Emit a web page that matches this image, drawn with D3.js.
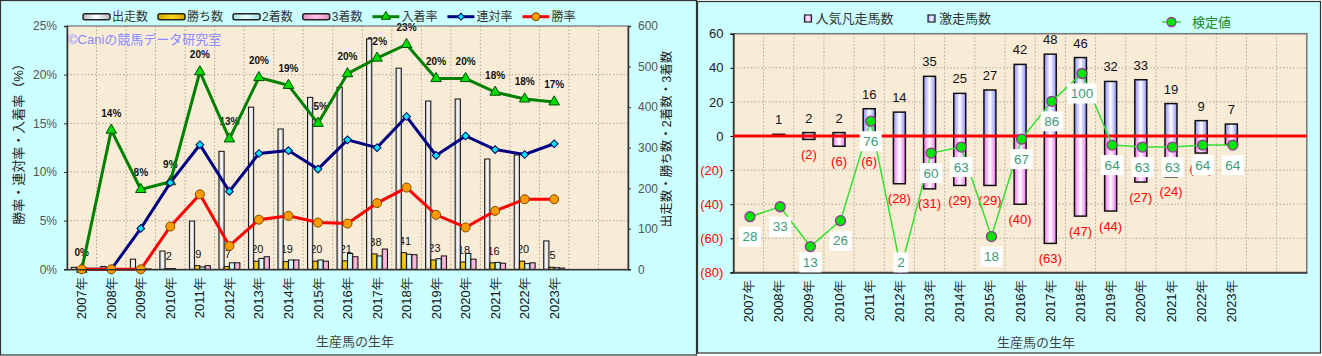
<!DOCTYPE html>
<html><head><meta charset="utf-8">
<script src="https://cdn.jsdelivr.net/npm/d3@7"></script>
<style>
body{margin:0;background:#fff;}
svg{display:block;font-family:"Liberation Sans","Noto Sans CJK JP",sans-serif;}
</style></head><body>
<svg id="c" width="1322" height="356"></svg>
<script>
// ---------- DATA ----------
const categories = ['2007年','2008年','2009年','2010年','2011年','2012年','2013年','2014年','2015年','2016年','2017年','2018年','2019年','2020年','2021年','2022年','2023年'];
// left chart: counts (right axis)
const runners  = [5, 7, 25, 45, 119, 291, 400, 346, 424, 449, 568, 496, 415, 420, 272, 282, 70];
const wins     = [0, 0, 0, 2, 9, 7, 20, 19, 20, 21, 38, 41, 23, 18, 16, 20, 5];
const seconds  = [0, 0, 1, 2, 6, 16, 27, 23, 23, 39, 33, 37, 26, 39, 17, 14, 4];
const thirds   = [0, 1, 1, 0, 9, 16, 31, 23, 20, 31, 50, 36, 33, 25, 15, 16, 3];
// left chart: rates in % (left axis)
const placeRate    = [0, 14.3, 8.2, 9.0, 20.3, 13.4, 19.7, 18.9, 15.0, 20.1, 21.7, 23.1, 19.6, 19.6, 18.2, 17.5, 17.2];
const quinellaRate = [0, 0, 4.2, 8.9, 12.8, 8.0, 11.9, 12.2, 10.3, 13.3, 12.5, 15.7, 11.7, 13.7, 12.3, 11.8, 12.9];
const winRate      = [0, 0, 0, 4.4, 7.7, 2.4, 5.1, 5.5, 4.8, 4.7, 6.8, 8.4, 5.6, 4.3, 6.0, 7.2, 7.2];
const leftTicks  = [0, 5, 10, 15, 20, 25];
const rightTicks = [0, 100, 200, 300, 400, 500, 600];
// right chart
const hotCount   = [0, 1, 2, 2, 16, 14, 35, 25, 27, 42, 48, 46, 32, 33, 19, 9, 7];   // 激走馬数
const flopCount  = [0, 0, 2, 6, 6, 28, 31, 29, 29, 40, 63, 47, 44, 27, 24, 10, 5];   // 人気凡走馬数
const testValue  = [28, 33, 13, 26, 76, 2, 60, 63, 18, 67, 86, 100, 64, 63, 63, 64, 64]; // 検定値
const rTicks = [-80, -60, -40, -20, 0, 20, 40, 60];

// ---------- SETUP ----------
const svg = d3.select('#c');
const defs = svg.append('defs');
function hGrad(id, edge, mid) {
  const g = defs.append('linearGradient').attr('id', id).attr('x1', '0').attr('x2', '1').attr('y1', '0').attr('y2', '0');
  g.append('stop').attr('offset', '0%').attr('stop-color', edge);
  g.append('stop').attr('offset', '50%').attr('stop-color', mid);
  g.append('stop').attr('offset', '100%').attr('stop-color', edge);
}
hGrad('gRun', '#b8b8b8', '#ffffff');
hGrad('gWin', '#d9a400', '#ffd21a');
hGrad('gSec', '#9fe2e2', '#e6ffff');
hGrad('gThr', '#e58fc0', '#ffc4e4');
hGrad('gHot', '#8c8cff', '#ffffff');
hGrad('gFlop', '#f070f0', '#ffffff');

const slots = categories.concat(['pad1', 'pad2']);
const catIdx = d => categories.indexOf(d);

// panels
svg.append('rect').attr('x', 0.5).attr('y', 0.5).attr('width', 696).attr('height', 354.5)
  .attr('fill', '#ccffff').attr('stroke', '#333').attr('stroke-width', 1.2);
svg.append('rect').attr('x', 697.5).attr('y', 1.5).attr('width', 623).attr('height', 351.5)
  .attr('fill', '#ccffff').attr('stroke', '#333').attr('stroke-width', 1.2);

// ================= LEFT CHART =================
const L = {x0: 67, x1: 628, y0: 26, y1: 269.3};
const xL = d3.scaleBand().domain(slots).range([L.x0, L.x1]);
const yL = d3.scaleLinear().domain([0, 25]).range([L.y1, L.y0]);
const yR = d3.scaleLinear().domain([0, 600]).range([L.y1, L.y0]);
const cx = i => xL(categories[i]) + xL.bandwidth() / 2;

const gl = svg.append('g');
gl.append('rect').attr('x', L.x0).attr('y', L.y0).attr('width', L.x1 - L.x0).attr('height', L.y1 - L.y0)
  .attr('fill', '#f9ecd7');
// grid
gl.selectAll('.hg').data(leftTicks.slice(1)).join('line')
  .attr('x1', L.x0).attr('x2', L.x1).attr('y1', d => yL(d)).attr('y2', d => yL(d))
  .attr('stroke', '#b0a898').attr('stroke-dasharray', '1.5,2');
gl.selectAll('.vg').data(slots.slice(1)).join('line')
  .attr('x1', d => xL(d)).attr('x2', d => xL(d)).attr('y1', L.y0).attr('y2', L.y1)
  .attr('stroke', '#b0a898').attr('stroke-dasharray', '1.5,2');

// watermark
gl.append('text').attr('x', L.x0 + 1).attr('y', 39).attr('dy', '0.35em')
  .attr('font-size', 13).attr('fill', '#8a8aff').text('©Caniの競馬データ研究室');

// place-rate labels (drawn under bars)
gl.selectAll('.pl').data(placeRate).join('text')
  .attr('x', (d, i) => cx(i)).attr('y', d => yL(d) - 17).attr('dy', '0.35em')
  .attr('text-anchor', 'middle').attr('font-size', 10).attr('font-weight', 'bold').attr('fill', '#111')
  .text(d => Math.round(d) + '%');

// win-count labels
const keys = ['runners', 'wins', 'seconds', 'thirds'];
const sub = d3.scaleBand().domain(keys).range([xL.bandwidth() * 0.145, xL.bandwidth() * 0.855]);
gl.selectAll('.wl').data(wins).join('text')
  .attr('x', (d, i) => xL(categories[i]) + sub('wins') + sub.bandwidth() / 2 + 1)
  .attr('y', d => yR(d) - 12).attr('dy', '0.35em')
  .attr('text-anchor', 'middle').attr('font-size', 11).attr('fill', '#111')
  .text(d => d > 0 ? d : '');

// bars
const series = {runners, wins, seconds, thirds};
const fills = {runners: 'url(#gRun)', wins: 'url(#gWin)', seconds: 'url(#gSec)', thirds: 'url(#gThr)'};
keys.forEach(k => {
  gl.selectAll('.b' + k).data(series[k]).join('rect')
    .attr('x', (d, i) => xL(categories[i]) + sub(k))
    .attr('width', sub.bandwidth())
    .attr('y', d => yR(d)).attr('height', d => yR(0) - yR(d))
    .attr('fill', fills[k]).attr('stroke', '#111').attr('stroke-width', 1);
});

// plot border
gl.append('rect').attr('x', L.x0).attr('y', L.y0).attr('width', L.x1 - L.x0).attr('height', L.y1 - L.y0)
  .attr('fill', 'none').attr('stroke', '#666').attr('stroke-width', 1);

// lines
const line = d3.line().x((d, i) => cx(i)).y(d => yL(d));
gl.append('path').datum(placeRate).attr('d', line).attr('fill', 'none').attr('stroke', '#008000').attr('stroke-width', 3);
gl.append('path').datum(quinellaRate).attr('d', line).attr('fill', 'none').attr('stroke', '#000080').attr('stroke-width', 3);
gl.append('path').datum(winRate).attr('d', line).attr('fill', 'none').attr('stroke', '#ff0000').attr('stroke-width', 3);
const tri = d3.symbol(d3.symbolTriangle, 48)();
gl.selectAll('.tm').data(placeRate).join('path').attr('d', tri)
  .attr('transform', (d, i) => `translate(${cx(i)},${yL(d)})`)
  .attr('fill', '#00dd00').attr('stroke', '#004d00').attr('stroke-width', 1);
const dia = d3.symbol(d3.symbolSquare, 30)();
gl.selectAll('.dm').data(quinellaRate).join('path').attr('d', dia)
  .attr('transform', (d, i) => `translate(${cx(i)},${yL(d)}) rotate(45)`)
  .attr('fill', '#00e5ff').attr('stroke', '#000060').attr('stroke-width', 1);
gl.selectAll('.cm').data(winRate).join('circle')
  .attr('cx', (d, i) => cx(i)).attr('cy', d => yL(d)).attr('r', 4.5)
  .attr('fill', '#ff9a00').attr('stroke', '#7a4a00').attr('stroke-width', 1);

// axes
const axL = gl.append('g').attr('transform', `translate(${L.x0},0)`)
  .call(d3.axisLeft(yL).tickValues(leftTicks).tickFormat(d => d + '%').tickSize(3).tickPadding(7));
const axR = gl.append('g').attr('transform', `translate(${L.x1},0)`)
  .call(d3.axisRight(yR).tickValues(rightTicks).tickSize(3).tickPadding(7));
const axB = gl.append('g').attr('transform', `translate(0,${L.y1})`)
  .call(d3.axisBottom(xL).tickSize(0).tickFormat(d => catIdx(d) >= 0 ? d : ''));
[axL, axR].forEach(a => {
  a.selectAll('text').attr('font-size', 12).attr('fill', '#555').attr('font-family', '"Liberation Sans",sans-serif');
  a.select('.domain').attr('stroke', '#333').attr('stroke-width', 1.5);
  a.selectAll('.tick line').attr('stroke', '#333');
});
axB.select('.domain').attr('stroke', '#333').attr('stroke-width', 1.5);
axB.selectAll('text').attr('transform', 'rotate(-90)').attr('x', -8).attr('y', 0).attr('dy', '0.35em')
  .attr('text-anchor', 'end').attr('font-size', 13).attr('fill', '#111');

// titles
svg.append('text').attr('transform', 'translate(18,141) rotate(-90)').attr('text-anchor', 'middle').attr('dy', '0.35em')
  .attr('font-size', 13).attr('fill', '#222').text('勝率・連対率・入着率（%）');
svg.append('text').attr('transform', 'translate(667,139) rotate(-90)').attr('text-anchor', 'middle').attr('dy', '0.35em')
  .attr('font-size', 12.5).attr('fill', '#222').text('出走数・勝ち数・2着数・3着数');
svg.append('text').attr('x', 355).attr('y', 341).attr('dy', '0.35em').attr('text-anchor', 'middle')
  .attr('font-size', 13).attr('fill', '#444').text('生産馬の生年');

// left legend
const legL = [
  {t: '出走数', type: 'bar', f: 'url(#gRun)'},
  {t: '勝ち数', type: 'bar', f: 'url(#gWin)'},
  {t: '2着数', type: 'bar', f: 'url(#gSec)'},
  {t: '3着数', type: 'bar', f: 'url(#gThr)'},
  {t: '入着率', type: 'tri', c: '#008000', f: '#00dd00', s: '#004d00'},
  {t: '連対率', type: 'dia', c: '#000080', f: '#00e5ff', s: '#000060'},
  {t: '勝率', type: 'cir', c: '#ff0000', f: '#ff9a00', s: '#7a4a00'}
];
let lx = 83; const ly = 16.7;
legL.forEach(it => {
  const g = svg.append('g');
  if (it.type === 'bar') {
    g.append('rect').attr('x', lx).attr('y', ly - 3).attr('width', 27).attr('height', 6).attr('rx', 2)
      .attr('fill', it.f).attr('stroke', '#222').attr('stroke-width', 1.5);
  } else {
    g.append('line').attr('x1', lx).attr('x2', lx + 27).attr('y1', ly).attr('y2', ly).attr('stroke', it.c).attr('stroke-width', 3);
    if (it.type === 'tri') g.append('path').attr('d', d3.symbol(d3.symbolTriangle, 36)()).attr('transform', `translate(${lx + 13.5},${ly})`).attr('fill', it.f).attr('stroke', it.s);
    if (it.type === 'dia') g.append('path').attr('d', d3.symbol(d3.symbolSquare, 24)()).attr('transform', `translate(${lx + 13.5},${ly}) rotate(45)`).attr('fill', it.f).attr('stroke', it.s);
    if (it.type === 'cir') g.append('circle').attr('cx', lx + 13.5).attr('cy', ly).attr('r', 4).attr('fill', it.f).attr('stroke', it.s);
  }
  const t = g.append('text').attr('x', lx + 29).attr('y', ly).attr('dy', '0.35em').attr('font-size', 12).attr('fill', '#333').text(it.t);
  lx += 29 + t.node().getComputedTextLength() + 10;
});

// ================= RIGHT CHART =================
const R = {x0: 733.4, x1: 1306.8, y0: 33.7, y1: 272.4};
const xRp = d3.scaleBand().domain(slots).range([R.x0, R.x1]);
const yRp = d3.scaleLinear().domain([-80, 60]).range([R.y1, R.y0]);
const yTest = d3.scaleLinear().domain([0, 120]).range([R.y1, R.y0]);
const rcx = i => xRp(categories[i]) + xRp.bandwidth() / 2;
const barW = 12;

const gr = svg.append('g');
gr.append('rect').attr('x', R.x0).attr('y', R.y0).attr('width', R.x1 - R.x0).attr('height', R.y1 - R.y0).attr('fill', '#f9ecd7');
gr.selectAll('.hg').data(rTicks).join('line')
  .attr('x1', R.x0).attr('x2', R.x1).attr('y1', d => yRp(d)).attr('y2', d => yRp(d))
  .attr('stroke', '#b0a898').attr('stroke-dasharray', '1.5,2');
gr.selectAll('.vg').data(slots.slice(1)).join('line')
  .attr('x1', d => xRp(d)).attr('x2', d => xRp(d)).attr('y1', R.y0).attr('y2', R.y1)
  .attr('stroke', '#b0a898').attr('stroke-dasharray', '1.5,2');

// bars
gr.selectAll('.hb').data(hotCount).join('rect')
  .attr('x', (d, i) => rcx(i) - barW / 2).attr('width', barW)
  .attr('y', d => yRp(d)).attr('height', d => yRp(0) - yRp(d))
  .attr('fill', 'url(#gHot)').attr('stroke', '#111').attr('stroke-width', 1.5);
gr.selectAll('.fb').data(flopCount).join('rect')
  .attr('x', (d, i) => rcx(i) - barW / 2).attr('width', barW)
  .attr('y', yRp(0)).attr('height', d => yRp(-d) - yRp(0))
  .attr('fill', 'url(#gFlop)').attr('stroke', '#111').attr('stroke-width', 1.5);
// bar labels
gr.selectAll('.hl').data(hotCount).join('text')
  .attr('x', (d, i) => rcx(i)).attr('y', d => yRp(d) - 14.5).attr('dy', '0.35em')
  .attr('text-anchor', 'middle').attr('font-size', 13).attr('fill', '#111')
  .text(d => d > 0 ? d : '');
gr.selectAll('.fl').data(flopCount).join('text')
  .attr('x', (d, i) => rcx(i)).attr('y', d => yRp(-d) + 15).attr('dy', '0.35em')
  .attr('text-anchor', 'middle').attr('font-size', 13).attr('fill', '#ff0000')
  .text(d => d > 0 ? '(' + d + ')' : '');

// border & axes
gr.append('rect').attr('x', R.x0).attr('y', R.y0).attr('width', R.x1 - R.x0).attr('height', R.y1 - R.y0)
  .attr('fill', 'none').attr('stroke', '#777').attr('stroke-width', 1.5);
const raL = gr.append('g').attr('transform', `translate(${R.x0},0)`)
  .call(d3.axisLeft(yRp).tickValues(rTicks).tickSize(3).tickPadding(7).tickFormat(d => d < 0 ? '(' + (-d) + ')' : d));
raL.selectAll('text').attr('font-size', 13).attr('fill', d => d < 0 ? '#ff0000' : '#222');
raL.select('.domain').attr('stroke', '#333').attr('stroke-width', 1.5);
const raB = gr.append('g').attr('transform', `translate(0,${R.y1})`)
  .call(d3.axisBottom(xRp).tickSize(0).tickFormat(d => catIdx(d) >= 0 ? d : ''));
raB.select('.domain').attr('stroke', '#333').attr('stroke-width', 1.5);
raB.selectAll('text').attr('transform', 'rotate(-90)').attr('x', -8).attr('y', 0).attr('dy', '0.35em')
  .attr('text-anchor', 'end').attr('font-size', 13).attr('fill', '#111');

// zero line
gr.append('line').attr('x1', R.x0).attr('x2', R.x1).attr('y1', yRp(0)).attr('y2', yRp(0))
  .attr('stroke', '#ff0000').attr('stroke-width', 3);

// test value line
const tline = d3.line().x((d, i) => rcx(i) + 1.5).y(d => yTest(d));
gr.append('path').datum(testValue).attr('d', tline).attr('fill', 'none').attr('stroke', '#33e033').attr('stroke-width', 1.5);
gr.selectAll('.tp').data(testValue).join('circle')
  .attr('cx', (d, i) => rcx(i) + 1.5).attr('cy', d => yTest(d)).attr('r', 5)
  .attr('fill', '#00e600').attr('stroke', '#993399').attr('stroke-width', 1.3);
const tlab = gr.selectAll('.tlg').data(testValue).join('g')
  .attr('transform', (d, i) => `translate(${rcx(i) + 1.5},${Math.min(yTest(d) + 20, R.y1 - 10)})`);
tlab.append('rect').attr('fill', '#ffffff');
tlab.append('text').attr('text-anchor', 'middle').attr('dy', '0.35em').attr('font-size', 13.5).attr('fill', '#3d9a78').text(d => d);
tlab.each(function () {
  const g = d3.select(this);
  const w = g.select('text').node().getComputedTextLength() + 7;
  g.select('rect').attr('x', -w / 2).attr('y', -10).attr('width', w).attr('height', 20);
});

// right titles
svg.append('text').attr('x', 1036).attr('y', 342).attr('dy', '0.35em').attr('text-anchor', 'middle')
  .attr('font-size', 13).attr('fill', '#444').text('生産馬の生年');

// right legend
const lgy = 18.5;
[{t: '人気凡走馬数', f: 'url(#gFlop)', x: 804.5}, {t: '激走馬数', f: 'url(#gHot)', x: 928}].forEach(it => {
  svg.append('rect').attr('x', it.x).attr('y', lgy - 3.5).attr('width', 7).attr('height', 7)
    .attr('fill', it.f).attr('stroke', '#222').attr('stroke-width', 1.2);
  svg.append('text').attr('x', it.x + 11).attr('y', lgy).attr('dy', '0.35em').attr('font-size', 13).attr('fill', '#333').text(it.t);
});
svg.append('line').attr('x1', 1162).attr('x2', 1181).attr('y1', 22).attr('y2', 22).attr('stroke', '#33e033').attr('stroke-width', 1.5);
svg.append('circle').attr('cx', 1171.5).attr('cy', 22).attr('r', 4.5).attr('fill', '#00e600').attr('stroke', '#993399').attr('stroke-width', 1.3);
svg.append('text').attr('x', 1192).attr('y', 22).attr('dy', '0.35em').attr('font-size', 13).attr('fill', '#228822').text('検定値');
</script>
</body></html>
